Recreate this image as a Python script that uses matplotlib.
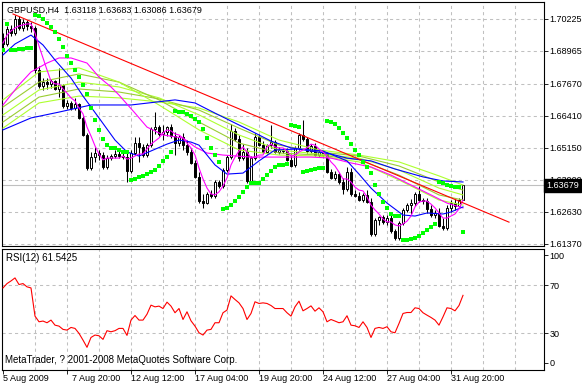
import numpy as np
import matplotlib.pyplot as plt
from matplotlib.patches import Rectangle
from matplotlib.transforms import blended_transform_factory

plt.rcParams['font.family'] = ['Liberation Sans', 'DejaVu Sans']

W, H = 582, 386

symbol = 'GBPUSD,H4'
last_ohlc = [1.63118, 1.63683, 1.63086, 1.63679]
rsi_label = 'RSI(12) 61.5425'
copyright_text = 'MetaTrader, ? 2001-2008 MetaQuotes Software Corp.'

# H4 bars, 5 Aug 2009 04:00 .. 1 Sep 2009 08:00
opens = [1.6948, 1.6924, 1.6983, 1.6967, 1.7022, 1.6987, 1.7011, 1.6995, 1.6987, 1.6822,
         1.6759, 1.6774, 1.6767, 1.6778, 1.6747, 1.6763, 1.6680, 1.6692, 1.6672, 1.6688,
         1.6633, 1.6566, 1.6436, 1.6479, 1.6495, 1.6487, 1.6440, 1.6475, 1.6483, 1.6491,
         1.6483, 1.6479, 1.6424, 1.6495, 1.6534, 1.6519, 1.6487, 1.6526, 1.6589, 1.6597,
         1.6570, 1.6578, 1.6597, 1.6562, 1.6534, 1.6558, 1.6526, 1.6499, 1.6456, 1.6401,
         1.6306, 1.6298, 1.6334, 1.6326, 1.6381, 1.6365, 1.6428, 1.6479, 1.6582, 1.6550,
         1.6475, 1.6499, 1.6385, 1.6475, 1.6558, 1.6526, 1.6499, 1.6526, 1.6538, 1.6499,
         1.6507, 1.6503, 1.6468, 1.6448, 1.6515, 1.6566, 1.6550, 1.6503, 1.6523, 1.6487,
         1.6499, 1.6491, 1.6420, 1.6397, 1.6412, 1.6381, 1.6353, 1.6420, 1.6334, 1.6326,
         1.6310, 1.6330, 1.6302, 1.6176, 1.6231, 1.6243, 1.6224, 1.6239, 1.6188, 1.6161,
         1.6220, 1.6271, 1.6290, 1.6298, 1.6334, 1.6310, 1.6306, 1.6275, 1.6251, 1.6259,
         1.6208, 1.6200, 1.6279, 1.6298, 1.6287, 1.63118]
highs = [1.6967, 1.6995, 1.6999, 1.7038, 1.7034, 1.7022, 1.7018, 1.7011, 1.6995, 1.6837,
         1.6790, 1.6790, 1.6786, 1.6782, 1.6830, 1.6767, 1.6704, 1.6700, 1.6712, 1.6692,
         1.6641, 1.6574, 1.6499, 1.6519, 1.6507, 1.6499, 1.6487, 1.6491, 1.6507, 1.6507,
         1.6495, 1.6507, 1.6507, 1.6558, 1.6558, 1.6530, 1.6534, 1.6597, 1.6656, 1.6605,
         1.6605, 1.6601, 1.6609, 1.6578, 1.6566, 1.6574, 1.6546, 1.6515, 1.6468, 1.6420,
         1.6334, 1.6342, 1.6349, 1.6389, 1.6389, 1.6436, 1.6487, 1.6609, 1.6593, 1.6566,
         1.6530, 1.6515, 1.6483, 1.6574, 1.6570, 1.6542, 1.6530, 1.6605, 1.6546, 1.6519,
         1.6515, 1.6515, 1.6491, 1.6523, 1.6574, 1.6625, 1.6558, 1.6530, 1.6534, 1.6507,
         1.6507, 1.6499, 1.6432, 1.6424, 1.6420, 1.6397, 1.6440, 1.6436, 1.6349, 1.6342,
         1.6338, 1.6349, 1.6318, 1.6239, 1.6247, 1.6251, 1.6251, 1.6259, 1.6196, 1.6227,
         1.6279, 1.6298, 1.6314, 1.6342, 1.6365, 1.6318, 1.6318, 1.6290, 1.6271, 1.6279,
         1.6239, 1.6290, 1.6310, 1.6314, 1.6318, 1.63683]
lows = [1.6908, 1.6916, 1.6955, 1.6959, 1.6979, 1.6975, 1.6979, 1.6971, 1.6810, 1.6751,
        1.6743, 1.6747, 1.6751, 1.6743, 1.6715, 1.6672, 1.6668, 1.6664, 1.6664, 1.6629,
        1.6562, 1.6428, 1.6428, 1.6460, 1.6468, 1.6432, 1.6432, 1.6468, 1.6475, 1.6475,
        1.6471, 1.6381, 1.6416, 1.6487, 1.6460, 1.6479, 1.6479, 1.6519, 1.6570, 1.6562,
        1.6546, 1.6562, 1.6554, 1.6487, 1.6523, 1.6507, 1.6487, 1.6452, 1.6397, 1.6298,
        1.6279, 1.6294, 1.6318, 1.6318, 1.6357, 1.6357, 1.6420, 1.6471, 1.6542, 1.6464,
        1.6468, 1.6377, 1.6377, 1.6468, 1.6523, 1.6495, 1.6491, 1.6515, 1.6495, 1.6491,
        1.6495, 1.6464, 1.6440, 1.6440, 1.6507, 1.6542, 1.6495, 1.6495, 1.6483, 1.6479,
        1.6479, 1.6416, 1.6393, 1.6389, 1.6373, 1.6334, 1.6346, 1.6326, 1.6322, 1.6306,
        1.6302, 1.6298, 1.6168, 1.6168, 1.6212, 1.6216, 1.6212, 1.6180, 1.6153, 1.6153,
        1.6212, 1.6263, 1.6255, 1.6287, 1.6302, 1.6294, 1.6259, 1.6243, 1.6239, 1.6204,
        1.6192, 1.6192, 1.6263, 1.6271, 1.6279, 1.63086]
closes = [1.6924, 1.6983, 1.6967, 1.7022, 1.6987, 1.7011, 1.6995, 1.6987, 1.6822, 1.6759,
          1.6774, 1.6767, 1.6778, 1.6747, 1.6763, 1.6680, 1.6692, 1.6672, 1.6688, 1.6633,
          1.6566, 1.6436, 1.6479, 1.6495, 1.6487, 1.6440, 1.6475, 1.6483, 1.6491, 1.6483,
          1.6479, 1.6424, 1.6495, 1.6534, 1.6519, 1.6487, 1.6526, 1.6589, 1.6597, 1.6570,
          1.6578, 1.6597, 1.6562, 1.6534, 1.6558, 1.6526, 1.6499, 1.6456, 1.6401, 1.6306,
          1.6298, 1.6334, 1.6326, 1.6381, 1.6365, 1.6428, 1.6479, 1.6582, 1.6550, 1.6475,
          1.6499, 1.6385, 1.6475, 1.6558, 1.6526, 1.6499, 1.6526, 1.6538, 1.6499, 1.6507,
          1.6503, 1.6468, 1.6444, 1.6515, 1.6566, 1.6550, 1.6503, 1.6523, 1.6487, 1.6499,
          1.6491, 1.6420, 1.6397, 1.6412, 1.6381, 1.6353, 1.6420, 1.6334, 1.6326, 1.6310,
          1.6330, 1.6302, 1.6176, 1.6231, 1.6243, 1.6224, 1.6239, 1.6188, 1.6161, 1.6220,
          1.6271, 1.6290, 1.6298, 1.6334, 1.6310, 1.6306, 1.6275, 1.6251, 1.6259, 1.6208,
          1.6200, 1.6279, 1.6298, 1.6287, 1.6310, 1.63679]

# parabolic SAR, one dot per bar
sar = [1.6900, 1.7003, 1.6900, 1.6900, 1.6904, 1.6904, 1.6908, 1.6908, 1.7038, 1.7034,
       1.7022, 1.7007, 1.6991, 1.6971, 1.6944, 1.6912, 1.6877, 1.6849, 1.6822, 1.6794,
       1.6763, 1.6727, 1.6672, 1.6625, 1.6586, 1.6550, 1.6526, 1.6515, 1.6515, 1.6507,
       1.6499, 1.6499, 1.6389, 1.6393, 1.6401, 1.6405, 1.6412, 1.6420, 1.6428, 1.6444,
       1.6464, 1.6479, 1.6499, 1.6660, 1.6656, 1.6656, 1.6649, 1.6641, 1.6629, 1.6617,
       1.6589, 1.6554, 1.6515, 1.6487, 1.6460, 1.6275, 1.6279, 1.6290, 1.6306, 1.6322,
       1.6342, 1.6361, 1.6377, 1.6377, 1.6377, 1.6393, 1.6408, 1.6424, 1.6440, 1.6448,
       1.6448, 1.6452, 1.6605, 1.6601, 1.6597, 1.6420, 1.6424, 1.6428, 1.6432, 1.6436,
       1.6436, 1.6621, 1.6617, 1.6609, 1.6593, 1.6574, 1.6554, 1.6530, 1.6507, 1.6487,
       1.6460, 1.6440, 1.6416, 1.6369, 1.6334, 1.6302, 1.6279, 1.6255, 1.6247, 1.6247,
       1.6153, 1.6153, 1.6157, 1.6161, 1.6168, 1.6180, 1.6192, 1.6204, 1.6216, 1.6381,
       1.6377, 1.6369, 1.6365, 1.6361, 1.6361, 1.6184]

# fast magenta average, one value per bar
ma_magenta_fast = [1.6928, 1.6959, 1.6975, 1.6987, 1.6995, 1.6999, 1.7003, 1.7003, 1.6967, 1.6916,
                   1.6869, 1.6822, 1.6778, 1.6767, 1.6767, 1.6747, 1.6731, 1.6712, 1.6700, 1.6672,
                   1.6649, 1.6597, 1.6562, 1.6523, 1.6491, 1.6468, 1.6475, 1.6475, 1.6475, 1.6475,
                   1.6483, 1.6471, 1.6475, 1.6483, 1.6491, 1.6491, 1.6511, 1.6530, 1.6542, 1.6554,
                   1.6574, 1.6586, 1.6582, 1.6570, 1.6566, 1.6554, 1.6534, 1.6515, 1.6487, 1.6436,
                   1.6393, 1.6357, 1.6334, 1.6330, 1.6342, 1.6365, 1.6397, 1.6448, 1.6479, 1.6503,
                   1.6519, 1.6499, 1.6475, 1.6479, 1.6487, 1.6487, 1.6519, 1.6530, 1.6519, 1.6515,
                   1.6515, 1.6503, 1.6483, 1.6487, 1.6499, 1.6507, 1.6515, 1.6530, 1.6526, 1.6511,
                   1.6499, 1.6483, 1.6460, 1.6444, 1.6420, 1.6393, 1.6393, 1.6381, 1.6361, 1.6349,
                   1.6346, 1.6322, 1.6290, 1.6271, 1.6255, 1.6235, 1.6224, 1.6224, 1.6212, 1.6208,
                   1.6216, 1.6227, 1.6247, 1.6283, 1.6302, 1.6306, 1.6306, 1.6294, 1.6279, 1.6259,
                   1.6239, 1.6239, 1.6247, 1.6255, 1.6275, 1.6310]

# the other averages, read at the bars listed with them
blue_fast_bars = [0, 3, 7, 10, 13, 17, 20, 24, 28, 31, 34, 37, 41, 44, 47, 49, 53,
                  56, 60, 64, 68, 74, 80, 86, 89, 92, 96, 100, 103, 106, 110, 112, 115]
blue_fast = [1.6881, 1.6924, 1.6959, 1.6920, 1.6861, 1.6790, 1.6719, 1.6633, 1.6546, 1.6499,
             1.6483, 1.6503, 1.6530, 1.6546, 1.6538, 1.6526, 1.6448, 1.6412, 1.6416, 1.6464,
             1.6507, 1.6511, 1.6503, 1.6464, 1.6412, 1.6357, 1.6298, 1.6251, 1.6247, 1.6259,
             1.6255, 1.6263, 1.6283]

blue_slow_bars = [0, 7, 14, 22, 32, 43, 48, 53, 58, 62, 67, 72, 77, 82, 86, 92, 98, 105, 110, 115]
blue_slow = [1.6586, 1.6633, 1.6656, 1.6684, 1.6684, 1.6704, 1.6692, 1.6652, 1.6613, 1.6582,
             1.6542, 1.6515, 1.6503, 1.6491, 1.6475, 1.6464, 1.6432, 1.6401, 1.6385, 1.6381]

magenta_slow_bars = [0, 4, 7, 11, 14, 17, 21, 24, 27, 29, 33, 36, 40, 45, 48, 51, 55,
                     62, 69, 77, 82, 87, 92, 97, 102, 107, 111, 115]
magenta_slow = [1.6684, 1.6763, 1.6814, 1.6849, 1.6869, 1.6869, 1.6849, 1.6794, 1.6755, 1.6723,
                1.6652, 1.6597, 1.6566, 1.6554, 1.6519, 1.6495, 1.6487, 1.6479, 1.6479, 1.6479,
                1.6475, 1.6456, 1.6440, 1.6408, 1.6369, 1.6330, 1.6298, 1.6279]

green_bars = [0, 9, 19, 29, 39, 49, 59, 69, 79, 89, 99, 109, 115]
green_1 = [1.6704, 1.6814, 1.6830, 1.6774, 1.6684, 1.6586, 1.6507, 1.6487, 1.6483, 1.6460, 1.6389, 1.6310, 1.6290]
green_2 = [1.6676, 1.6774, 1.6806, 1.6774, 1.6704, 1.6617, 1.6534, 1.6495, 1.6487, 1.6468, 1.6408, 1.6330, 1.6310]
green_3 = [1.6645, 1.6743, 1.6774, 1.6755, 1.6712, 1.6645, 1.6566, 1.6507, 1.6491, 1.6475, 1.6428, 1.6357, 1.6330]
green_4 = [1.6617, 1.6715, 1.6747, 1.6735, 1.6708, 1.6664, 1.6593, 1.6526, 1.6499, 1.6483, 1.6444, 1.6381, 1.6349]
green_5 = [1.6593, 1.6692, 1.6719, 1.6712, 1.6696, 1.6672, 1.6617, 1.6546, 1.6507, 1.6487, 1.6460, 1.6405, 1.6369]

trend_bars = [2.5, 126.5]
trend_prices = [1.7042, 1.6223]

rsi = [67.7, 71.3, 73.5, 76.0, 70.5, 71.3, 68.6, 67.7, 44.3, 39.6,
       40.2, 38.8, 41.0, 36.8, 36.0, 33.3, 32.7, 34.9, 34.1, 30.0,
       24.4, 18.4, 26.6, 28.6, 28.0, 25.0, 32.2, 31.3, 32.2, 34.1,
       34.1, 28.3, 41.0, 44.8, 41.0, 41.0, 45.9, 53.4, 52.0, 52.6,
       50.6, 55.9, 52.6, 47.1, 50.6, 41.5, 47.9, 40.4, 36.0, 30.5,
       28.6, 32.7, 33.3, 38.8, 38.8, 47.1, 49.3, 61.1, 58.1, 55.3,
       50.6, 41.5, 46.5, 56.2, 54.8, 55.3, 54.8, 53.1, 50.6, 50.6,
       50.6, 47.1, 44.3, 52.0, 56.7, 48.7, 50.6, 52.8, 48.4, 51.2,
       47.9, 39.6, 41.5, 40.2, 38.8, 39.6, 44.6, 36.8, 36.3, 34.9,
       39.6, 34.9, 26.6, 34.1, 34.9, 34.1, 35.5, 31.3, 30.5, 38.2,
       46.5, 47.3, 47.3, 51.2, 50.6, 47.1, 45.1, 43.2, 41.0, 36.8,
       43.7, 51.2, 50.6, 48.7, 53.1, 61.5425]

price_ticks = [1.70225, 1.68965, 1.67670, 1.66410, 1.65150, 1.63900, 1.62630, 1.61370]
time_label_bars = [0, 16, 32, 48, 64, 80, 96, 112]
time_labels = ['5 Aug 2009', '  7 Aug 20:00', '12 Aug 12:00', '17 Aug 04:00',
               '19 Aug 20:00', '24 Aug 12:00', '27 Aug 04:00', '31 Aug 20:00']


fig = plt.figure(figsize=(W / 100, H / 100), dpi=100)
fig.patch.set_facecolor('white')


def px_axes(x0, y0, x1, y1):
    return fig.add_axes([x0 / W, 1 - y1 / H, (x1 - x0) / W, (y1 - y0) / H])


ax = px_axes(2, 2, 544, 246)
ax_rsi = px_axes(2, 249, 544, 369.5)

grid_kw = dict(color='#c0c0c0', linestyle=(0, (3, 3)), linewidth=0.75)
FS = 6.5

for a in (ax, ax_rsi):
    a.set_xlim(-0.25, 135.25)
    a.set_xticks(np.arange(8, 136, 8))
    a.tick_params(axis='x', which='major', length=0, labelbottom=False)
    a.xaxis.grid(True, **grid_kw)
    a.set_axisbelow(True)
    for s in a.spines.values():
        s.set_linewidth(0.8)
        s.set_color('black')
    a.yaxis.tick_right()
    a.tick_params(axis='y', length=3, width=0.6, pad=1, labelsize=FS)

# price panel
ax.set_ylim(1.61291, 1.70892)
ax.set_yticks(price_ticks)
ax.set_yticklabels(['%.5f' % p for p in price_ticks])
ax.yaxis.grid(True, **grid_kw)
ax.axhline(last_ohlc[3], color='#c0c0c0', lw=0.8, zorder=1)

bars = np.arange(len(closes))
ax.vlines(bars, lows, highs, color='black', lw=0.75, zorder=2)
for i in bars:
    o, c = opens[i], closes[i]
    lo, hi = min(o, c), max(o, c)
    ax.add_patch(Rectangle((i - 0.34, lo), 0.68, max(hi - lo, 0.00004),
                           facecolor='black' if c < o else 'white',
                           edgecolor='black', lw=0.7, zorder=3))

lw = 0.8
for g, col in zip([green_5, green_4, green_3, green_2, green_1],
                  ['#adff2f', '#9acd32', '#adff2f', '#9acd32', '#adff2f']):
    ax.plot(green_bars, g, color=col, lw=lw, zorder=4)
ax.plot(blue_slow_bars, blue_slow, color='#0000ff', lw=lw, zorder=5)
ax.plot(magenta_slow_bars, magenta_slow, color='#ff00ff', lw=lw, zorder=5)
ax.plot(blue_fast_bars, blue_fast, color='#0000ff', lw=lw, zorder=5)
ax.plot(bars, ma_magenta_fast, color='#ff00ff', lw=lw, zorder=5)
ax.plot(trend_bars, trend_prices, color='#ff0000', lw=lw, zorder=5)
ax.scatter(bars, sar, marker='s', s=9, color='#00ff00', linewidths=0, zorder=6)

ax.text(0.0092, 0.967, '%s  %.5f %.5f %.5f %.5f' % (symbol, *last_ohlc),
        transform=ax.transAxes, ha='left', va='center', fontsize=FS, zorder=10)

trans = blended_transform_factory(ax.transAxes, ax.transData)
ax.text(1.004, last_ohlc[3], '%.5f' % last_ohlc[3], transform=trans, ha='left', va='center',
        fontsize=FS, color='white', zorder=10,
        bbox=dict(boxstyle='square,pad=0.2', fc='black', ec='black'))

# RSI panel
ax_rsi.set_ylim(0, 100)
ax_rsi.set_yticks([5.4, 30, 70, 94.8])
ax_rsi.set_yticklabels(['0', '30', '70', '100'])
for lvl in (30, 70):
    ax_rsi.axhline(lvl, zorder=0, **grid_kw)
ax_rsi.plot(bars, rsi, color='#ff0000', lw=lw, zorder=4)
ax_rsi.text(0.0074, 0.925, rsi_label, transform=ax_rsi.transAxes, ha='left', va='center', fontsize=FS + 0.5)
ax_rsi.text(0.0055, 0.079, copyright_text, transform=ax_rsi.transAxes, ha='left', va='center', fontsize=FS + 0.5)

ax_rsi.xaxis.remove_overlapping_locs = False
ax_rsi.set_xticks(time_label_bars, minor=True)
ax_rsi.set_xticklabels(time_labels, minor=True, ha='left')
ax_rsi.tick_params(axis='x', which='minor', length=3, width=0.6, pad=0.5,
                   labelsize=FS, labelbottom=True)

fig.savefig('out.png', dpi=100)
